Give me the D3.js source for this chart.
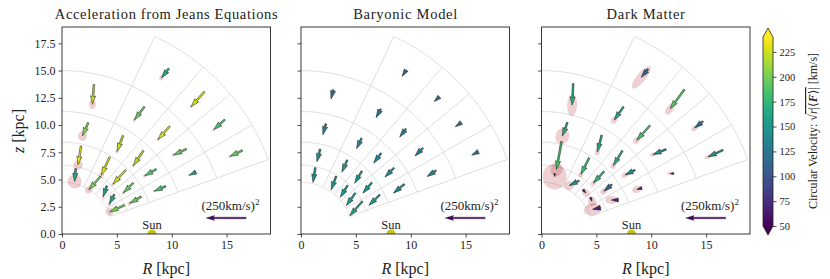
<!DOCTYPE html>
<meta charset="utf-8">
<head>
  <title>Acceleration field</title>
</head>

<style>
body {
  margin: 0;
  background: #fff;
}
text {
  font-family: "Liberation Serif", "DejaVu Serif", serif;
  fill: #222;
}
</style>

<body>
  <div id="content">
    <svg width="830" height="279"></svg>
  </div>

  <script src="https://cdnjs.cloudflare.com/ajax/libs/d3/7.8.5/d3.min.js"></script>

  <script>
// (r, theta) bins, kpc and degrees from the plane
var rEdges = [4.746, 6.328, 8.4375, 11.25, 15, 20];
var thetaEdges = [20, 30, 40, 50, 65, 90];
var outerThetaMax = 65;

var panelTitles = ['Acceleration from Jeans Equations', 'Baryonic Model', 'Dark Matter'];
var xTicks = [0, 5, 10, 15];
var yTicks = [0, 2.5, 5, 7.5, 10, 12.5, 15, 17.5];
var cbTicks = [50, 75, 100, 125, 150, 175, 200, 225];
var vMin = 50, vMax = 240;
var keyVel = 250;          // key arrow is (250 km/s)^2
var sunR = 8.2;

// arrows per bin, ring by ring (inner first), theta increasing
// [aR, az] in 1000 (km/s)^2, colour = circular velocity km/s, err = [along, across] kpc
var jeansVec = [
  [-23.4, -10.5], [-7.8, -15.6], [-5.5, -17.2], [-18.3, -20.8], [-1.6, -20.3],
  [-18.3, -10.5], [-15.6, -15.6], [-19.8, -22.3], [-13.0, -28.6], [-4.7, -29.7],
  [-18.3, -7.8], [-18.3, -10.5], [-15.6, -23.4], [-9.4, -25.0], [-8.9, -20.8],
  [-10.5, -5.2], [-20.3, -9.4], [-18.3, -20.8], [-15.6, -20.8], [-2.3, -31.3],
  [-19.8, -9.4], [-17.2, -15.6], [-20.8, -23.4], [-11.4, -14.5]
];
var jeansV = [200, 160, 155, 200, 165, 195, 195, 225, 230, 232, 185, 190, 218, 220, 205,
  155, 195, 225, 195, 222, 195, 185, 228, 165];
var jeansErr = [
  [0.36, 0.36], [0.18, 0.14], [0.18, 0.14], [0.36, 0.32], [0.64, 0.64],
  [0.23, 0.18], [0.18, 0.14], [0.18, 0.14], [0.27, 0.23], [0.45, 0.41],
  [0.14, 0.09], [0.18, 0.14], [0.18, 0.14], [0.18, 0.14], [0.45, 0.41],
  [0.14, 0.09], [0.18, 0.14], [0.18, 0.14], [0.18, 0.14], [0.45, 0.32],
  [0.14, 0.09], [0.18, 0.14], [0.18, 0.14], [0.27, 0.18]
];

var baryonVec = [
  [-19.8, -23.0], [-14.1, -19.8], [-11.4, -18.8], [-7.8, -21.4], [-3.6, -23.4],
  [-17.2, -16.7], [-14.1, -16.7], [-11.4, -19.2], [-8.3, -19.2], [-5.2, -19.8],
  [-17.2, -14.1], [-14.1, -14.5], [-11.4, -15.6], [-7.8, -16.7], [-4.7, -17.2],
  [-14.1, -9.4], [-12.5, -12.5], [-9.8, -13.0], [-7.3, -13.6], [-3.6, -14.5],
  [-10.5, -5.8], [-9.4, -6.6], [-8.3, -7.6], [-6.5, -9.8]
];
var baryonV = [158, 155, 152, 150, 148, 150, 148, 146, 145, 143, 142, 140, 138, 136, 134,
  130, 128, 126, 124, 122, 120, 118, 116, 114];
var baryonErr = baryonVec.map(function() { return [0, 0]; });

var darkVec = [
  [-12.5, -2.3], [2.3, -6.3], [4.7, -5.5], [-15.6, -7.8], [0, -4.7],
  [-10.9, 0], [-12.5, -10.5], [-16.7, -18.3], [-13.0, -26.1], [-7.8, -43.8],
  [-7.8, -2.3], [-15.6, -7.8], [-14.1, -23.4], [-6.7, -26.1], [-7.8, -21.4],
  [-5.5, 0], [-20.3, -8.3], [-20.8, -23.4], [-14.5, -20.8], [-1.6, -33.9],
  [-23.4, -10.5], [-13.0, -10.5], [-22.3, -30.2], [-10.5, -13.0]
];
var darkV = [70, 65, 68, 140, 60, 72, 110, 175, 180, 185, 72, 140, 170, 165, 165,
  75, 145, 185, 160, 170, 150, 115, 190, 110];
var darkErr = [
  [0.82, 0.55], [0.45, 0.36], [0.36, 0.32], [0.45, 0.41], [1.18, 1.09],
  [0.55, 0.36], [0.36, 0.27], [0.27, 0.23], [0.27, 0.23], [0.64, 0.55],
  [0.45, 0.32], [0.36, 0.23], [0.32, 0.23], [0.32, 0.23], [0.73, 0.64],
  [0.27, 0.18], [0.27, 0.18], [0.36, 0.27], [0.36, 0.27], [1.0, 0.45],
  [0.36, 0.18], [0.36, 0.23], [0.64, 0.32], [1.27, 0.41]
];

var panels = [
  {vec: jeansVec, v: jeansV, err: jeansErr},
  {vec: baryonVec, v: baryonV, err: baryonErr},
  {vec: darkVec, v: darkV, err: darkErr}
];

// layout
var panelX = [62, 301, 541.5];
var pw = 208.5, plotTop = 27, plotBottom = 234;
var keyLenKpc = 3.65;
var rad = Math.PI / 180;

var svg = d3.select('#content svg');
var color = function(v) { return d3.interpolateViridis(Math.max(0, Math.min(1, (v - vMin) / (vMax - vMin)))); };

// the LaTeX font runs wider than Liberation Serif
function widen(sel, f) {
  var w = sel.node().getComputedTextLength();
  sel.attr('textLength', w * f).attr('lengthAdjust', 'spacing');
}

// bin centres
var cells = [];
for (var i = 0; i < rEdges.length - 1; i++) {
  for (var j = 0; j < thetaEdges.length - 1; j++) {
    if (i == rEdges.length - 2 && thetaEdges[j] >= outerThetaMax) continue;
    var r = (rEdges[i] + rEdges[i + 1]) / 2;
    var th = (thetaEdges[j] + thetaEdges[j + 1]) / 2 * rad;
    cells.push({R: r * Math.cos(th), z: r * Math.sin(th)});
  }
}

function arrowPath(x1, y1, x2, y2, w) {
  var dx = x2 - x1, dy = y2 - y1, L = Math.hypot(dx, dy);
  var hl = 5 * w, hal = 4.5 * w, hw = 1.5 * w, sw = w / 2;
  var pts;
  if (L < hl) {
    var s = L / hl;
    pts = [[0, -sw], [hl - hal, -sw], [0, -hw], [hl, 0], [0, hw], [hl - hal, sw], [0, sw]]
      .map(function(p) { return [p[0] * s, p[1] * s]; });
  } else {
    pts = [[0, -sw], [L - hal, -sw], [L - hl, -hw], [L, 0], [L - hl, hw], [L - hal, sw], [0, sw]];
  }
  var a = Math.atan2(dy, dx), c = Math.cos(a), sn = Math.sin(a);
  return 'M' + pts.map(function(p) {
    return [x1 + p[0] * c - p[1] * sn, y1 + p[0] * sn + p[1] * c].join(',');
  }).join('L') + 'Z';
}

panels.forEach(function(pd, k) {
  var x = d3.scaleLinear().domain([0, 19]).range([panelX[k], panelX[k] + pw]);
  var y = d3.scaleLinear().domain([0, 19]).range([plotBottom, plotTop]);
  var g = svg.append('g');

  g.append('clipPath').attr('id', 'clip' + k)
    .append('rect').attr('x', x(0)).attr('y', y(19)).attr('width', pw).attr('height', plotBottom - plotTop);
  var plot = g.append('g').attr('clip-path', 'url(#clip' + k + ')');

  // grid
  var line = d3.line().x(function(d) { return x(d[0]); }).y(function(d) { return y(d[1]); });
  rEdges.forEach(function(r, i) {
    var tMax = i == rEdges.length - 1 ? outerThetaMax : 90;
    var pts = d3.range(thetaEdges[0], tMax + 0.01, 0.5).map(function(t) {
      return [r * Math.cos(t * rad), r * Math.sin(t * rad)];
    });
    plot.append('path').attr('d', line(pts))
      .attr('fill', 'none').attr('stroke', '#d6d6d6').attr('stroke-width', 0.8);
  });
  thetaEdges.slice(0, -1).forEach(function(t) {
    var r0 = rEdges[0], r1 = rEdges[rEdges.length - 1];
    plot.append('path')
      .attr('d', line([[r0 * Math.cos(t * rad), r0 * Math.sin(t * rad)], [r1 * Math.cos(t * rad), r1 * Math.sin(t * rad)]]))
      .attr('fill', 'none').attr('stroke', '#d6d6d6').attr('stroke-width', 0.8);
  });

  // arrows in pixels
  var arrows = cells.map(function(c, n) {
    var u = keyLenKpc / (keyVel * keyVel / 1000);
    var dR = pd.vec[n][0] * u, dz = pd.vec[n][1] * u;
    var cx = x(c.R), cy = y(c.z);
    var px = x(c.R + dR) - cx, py = y(c.z + dz) - cy;
    return {x1: cx - px / 2, y1: cy - py / 2, x2: cx + px / 2, y2: cy + py / 2,
      v: pd.v[n], err: pd.err[n], ang: Math.atan2(py, px)};
  });

  // uncertainty blobs at the arrow heads
  plot.selectAll('ellipse.err').data(arrows.filter(function(a) { return a.err[0] > 0; }))
    .enter().append('ellipse')
    .attr('cx', 0).attr('cy', 0)
    .attr('rx', function(a) { return x(a.err[0]) - x(0); })
    .attr('ry', function(a) { return x(a.err[1]) - x(0); })
    .attr('transform', function(a) { return 'translate(' + a.x2 + ',' + a.y2 + ') rotate(' + a.ang / rad + ')'; })
    .attr('fill', '#b83c44').attr('fill-opacity', 0.24);

  plot.selectAll('path.arrow').data(arrows).enter().append('path')
    .attr('d', function(a) { return arrowPath(a.x1, a.y1, a.x2, a.y2, 1.7); })
    .attr('fill', function(a) { return color(a.v); })
    .attr('stroke', '#111').attr('stroke-width', 0.5);

  // sun
  plot.append('circle').attr('cx', x(sunR)).attr('cy', y(0)).attr('r', 4.5).attr('fill', '#c4c417');
  g.append('text').attr('x', x(sunR)).attr('y', y(0) - 5).attr('text-anchor', 'middle')
    .style('font-size', '12.5px').text('Sun');

  // key
  var kx = x(14.95), ky = y(1.47), kl = x(keyLenKpc) - x(0);
  g.append('path').attr('d', arrowPath(kx + kl / 2, ky, kx - kl / 2, ky, 1.7))
    .attr('fill', '#3a0d50').attr('stroke', '#3a0d50').attr('stroke-width', 0.3);
  var kt = g.append('text').attr('x', x(15.35)).attr('y', y(2.2)).attr('text-anchor', 'middle')
    .style('font-size', '13px').text('(' + keyVel + 'km/s)');
  kt.append('tspan').attr('dy', -5).style('font-size', '9px').text('2');

  // axes
  var ax = g.append('g').attr('transform', 'translate(0,' + plotBottom + ')')
    .call(d3.axisBottom(x).tickValues(xTicks).tickSize(3.5).tickPadding(3).tickFormat(d3.format('d')));
  var ay = g.append('g').attr('transform', 'translate(' + x(0) + ',0)')
    .call(d3.axisLeft(y).tickValues(yTicks).tickSize(3.5).tickPadding(3).tickFormat(d3.format('.1f')));
  if (k > 0) ay.selectAll('text').remove();
  [ax, ay].forEach(function(a) {
    a.select('.domain').remove();
    a.selectAll('line').attr('stroke', '#222').attr('stroke-width', 0.8);
    a.selectAll('text').style('font-family', '"Liberation Serif", serif').style('font-size', '12px').attr('fill', '#222');
  });
  g.append('rect').attr('x', x(0)).attr('y', plotTop).attr('width', pw).attr('height', plotBottom - plotTop)
    .attr('fill', 'none').attr('stroke', '#222').attr('stroke-width', 0.9);

  var title = g.append('text').attr('x', x(0) + pw / 2).attr('y', 19).attr('text-anchor', 'middle')
    .style('font-size', '14.5px').text(panelTitles[k]);
  widen(title, 1.1);

  var xl = g.append('text').attr('x', x(0) + pw / 2).attr('y', 274).attr('text-anchor', 'middle')
    .style('font-size', '16px');
  xl.append('tspan').style('font-style', 'italic').text('R');
  xl.append('tspan').text(' [kpc]');

  if (k == 0) {
    var yl = g.append('text').attr('transform', 'translate(24,131) rotate(-90)').attr('text-anchor', 'middle')
      .style('font-size', '16px');
    yl.append('tspan').style('font-style', 'italic').text('z');
    yl.append('tspan').text(' [kpc]');
  }
});

// colourbar
var cbX = 763, cbW = 10, ext = 9;
var yc = d3.scaleLinear().domain([vMin, vMax]).range([226, 37]);
var grad = svg.append('defs').append('linearGradient').attr('id', 'cbgrad')
  .attr('x1', 0).attr('y1', 1).attr('x2', 0).attr('y2', 0);
d3.range(0, 1.001, 0.05).forEach(function(t) {
  grad.append('stop').attr('offset', t).attr('stop-color', d3.interpolateViridis(t));
});
svg.append('rect').attr('x', cbX).attr('y', yc(vMax)).attr('width', cbW).attr('height', yc(vMin) - yc(vMax))
  .attr('fill', 'url(#cbgrad)');
svg.append('path').attr('d', 'M' + cbX + ',' + yc(vMax) + 'L' + (cbX + cbW / 2) + ',' + (yc(vMax) - ext) + 'L' + (cbX + cbW) + ',' + yc(vMax) + 'Z')
  .attr('fill', color(vMax));
svg.append('path').attr('d', 'M' + cbX + ',' + yc(vMin) + 'L' + (cbX + cbW / 2) + ',' + (yc(vMin) + ext) + 'L' + (cbX + cbW) + ',' + yc(vMin) + 'Z')
  .attr('fill', color(vMin));
svg.append('path')
  .attr('d', 'M' + cbX + ',' + yc(vMax) + 'L' + (cbX + cbW / 2) + ',' + (yc(vMax) - ext) + 'L' + (cbX + cbW) + ',' + yc(vMax) +
    'L' + (cbX + cbW) + ',' + yc(vMin) + 'L' + (cbX + cbW / 2) + ',' + (yc(vMin) + ext) + 'L' + cbX + ',' + yc(vMin) + 'Z')
  .attr('fill', 'none').attr('stroke', '#222').attr('stroke-width', 0.8);
var cax = svg.append('g').attr('transform', 'translate(' + (cbX + cbW) + ',0)')
  .call(d3.axisRight(yc).tickValues(cbTicks).tickSize(3.5).tickPadding(3));
cax.select('.domain').remove();
cax.selectAll('line').attr('stroke', '#222').attr('stroke-width', 0.8);
cax.selectAll('text').style('font-family', '"Liberation Serif", serif').style('font-size', '10.5px').attr('fill', '#222');

var cl = svg.append('text').attr('transform', 'translate(817,131) rotate(-90)').attr('text-anchor', 'middle')
  .style('font-size', '12px');
cl.append('tspan').text('Circular Velocity:  \u221a');
var rad2 = cl.append('tspan').style('text-decoration', 'overline');
rad2.append('tspan').style('font-style', 'italic').text('r');
rad2.append('tspan').text('|\u27e8');
rad2.append('tspan').style('font-weight', 'bold').style('font-style', 'italic').text('F');
rad2.append('tspan').text('\u27e9|');
cl.append('tspan').text(' [km/s]');
  </script>
</body>
</html>
